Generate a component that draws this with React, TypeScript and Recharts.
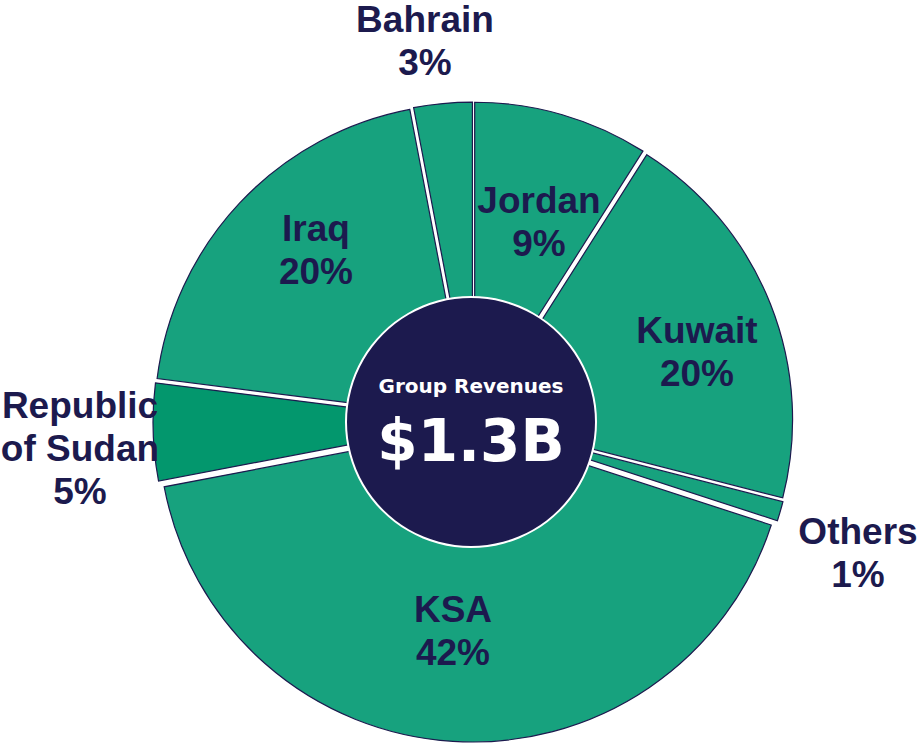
import { PieChart, Pie, Cell, Sector } from "recharts";

// Revenue split by country, clockwise from 12 o'clock
const regions = ["Jordan", "Kuwait", "Others", "KSA", "Republic of Sudan", "Iraq", "Bahrain"];
const shares = [9, 20, 1, 42, 5, 20, 3];
const centerTitle = "Group Revenues";
const centerValue = "$1.3B";
const groupRevenue = 1.3;

const GREEN = "#17a27e";
const DARK_GREEN = "#03976d";
const NAVY = "#1c1a4e";

const sliceColors: Record<string, string> = {
  "Republic of Sudan": DARK_GREEN,
};

// label text placement (center x, first baseline) — layout only
const labelAt: Record<string, { x: number; y: number }> = {
  Jordan: { x: 539, y: 213 },
  Kuwait: { x: 697, y: 343 },
  Others: { x: 858, y: 544 },
  KSA: { x: 453, y: 622 },
  "Republic of Sudan": { x: 80, y: 418 },
  Iraq: { x: 316, y: 241 },
  Bahrain: { x: 425, y: 32 },
};

const labelLines = (name: string, value: number) =>
  name === "Republic of Sudan"
    ? ["Republic", "of Sudan", `${value}%`]
    : [name, `${value}%`];

const pieData = regions.map((name, i) => ({ name, value: shares[i] }));
const centerData = [{ name: centerTitle, value: groupRevenue }];

const EXPLODE = 6;
const RAD = Math.PI / 180;

const ExplodedSector = (props: any) => {
  const { cx, cy, midAngle } = props;
  const dx = EXPLODE * Math.cos(-midAngle * RAD);
  const dy = EXPLODE * Math.sin(-midAngle * RAD);
  return <Sector {...props} cx={cx + dx} cy={cy + dy} />;
};

const renderLabel = (props: any) => {
  const name = regions[props.index];
  const pos = labelAt[name];
  const lines = labelLines(name, shares[props.index]);
  return (
    <text
      key={name}
      x={pos.x}
      y={pos.y}
      textAnchor="middle"
      fill={NAVY}
      fontSize={37}
      fontWeight="bold"
      fontFamily="'Liberation Sans', Arial, sans-serif"
    >
      {lines.map((l, i) => (
        <tspan key={i} x={pos.x} dy={i === 0 ? 0 : 43}>
          {l}
        </tspan>
      ))}
    </text>
  );
};

const renderCenter = (props: any) => (
  <g key="center">
    <text
      x={props.cx}
      y={props.cy - 29}
      textAnchor="middle"
      fill="#fff"
      fontSize={20}
      fontWeight="bold"
      fontFamily="'DejaVu Sans', sans-serif"
    >
      {centerTitle}
    </text>
    <text
      x={props.cx}
      y={props.cy + 39}
      textAnchor="middle"
      fill="#fff"
      fontSize={58}
      fontWeight="bold"
      fontFamily="'DejaVu Sans', sans-serif"
    >
      {centerValue}
    </text>
  </g>
);

export default function App() {
  return (
    <div style={{ position: "absolute", left: 0, top: 0, width: 920, height: 745, background: "#fff" }}>
      <PieChart width={920} height={745} margin={{ top: 0, right: 0, bottom: 0, left: 0 }}>
        <Pie
          data={pieData}
          dataKey="value"
          nameKey="name"
          cx={473}
          cy={422}
          innerRadius={0}
          outerRadius={314}
          startAngle={90}
          endAngle={-270}
          stroke={NAVY}
          strokeWidth={1.2}
          shape={ExplodedSector}
          label={renderLabel}
          labelLine={false}
          isAnimationActive={false}
        >
          {pieData.map((d) => (
            <Cell key={d.name} fill={sliceColors[d.name] ?? GREEN} />
          ))}
        </Pie>
        {/* white ring behind the navy centre disc */}
        <Pie
          data={centerData}
          dataKey="value"
          cx={471}
          cy={422}
          innerRadius={0}
          outerRadius={126}
          startAngle={90}
          endAngle={-270}
          fill="#fff"
          stroke="none"
          isAnimationActive={false}
        />
        <Pie
          data={centerData}
          dataKey="value"
          cx={471}
          cy={422}
          innerRadius={0}
          outerRadius={124}
          startAngle={90}
          endAngle={-270}
          fill={NAVY}
          stroke="none"
          label={renderCenter}
          labelLine={false}
          isAnimationActive={false}
        />
      </PieChart>
    </div>
  );
}
